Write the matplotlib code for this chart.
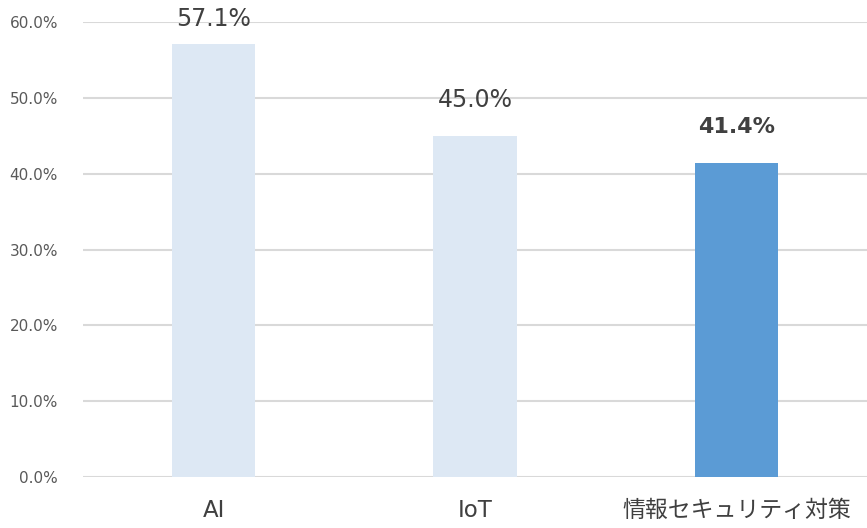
import numpy as np
import matplotlib
matplotlib.use('Agg')
import matplotlib.pyplot as plt
from matplotlib.ticker import PercentFormatter

plt.rcParams['font.family'] = ['DejaVu Sans', 'Noto Sans CJK JP']

categories = ['AI', 'IoT', '情報セキュリティ対策']
values = [57.1, 45.0, 41.4]
bar_colors = ['#DDE8F4', '#DDE8F4', '#5B9BD5']
label_bold = [False, False, True]
label_offsets = [18, 26, 26]  # points above bar top

fig = plt.figure(figsize=(8.67, 5.28), dpi=100)
ax = fig.add_axes([0.0957, 0.0966, 0.9043, 0.8617])

x = np.arange(len(categories))
ax.bar(x, values, width=0.32, color=bar_colors, zorder=3)

for xi, v, b, off in zip(x, values, label_bold, label_offsets):
    ax.annotate('{:.1f}%'.format(v), (xi, v), xytext=(0, off),
                textcoords='offset points', ha='center', va='center',
                fontsize=17 if not b else 16, color='#404040',
                fontweight='bold' if b else 'normal')

ax.set_xlim(-0.5, len(categories) - 0.5)
ax.set_ylim(0, 60)
ax.set_yticks(np.arange(0, 61, 10))
ax.yaxis.set_major_formatter(PercentFormatter(decimals=1))
ax.set_xticks(x)
ax.set_xticklabels(categories, fontsize=16.5, color='#404040')
ax.tick_params(axis='y', length=0, pad=18, labelsize=11, labelcolor='#595959')
ax.tick_params(axis='x', length=0, pad=16)

ax.grid(axis='y', color='#D9D9D9', linewidth=1.5, zorder=0)
ax.set_axisbelow(True)
for s in ax.spines.values():
    s.set_visible(False)

fig.savefig('out.png', dpi=100)
